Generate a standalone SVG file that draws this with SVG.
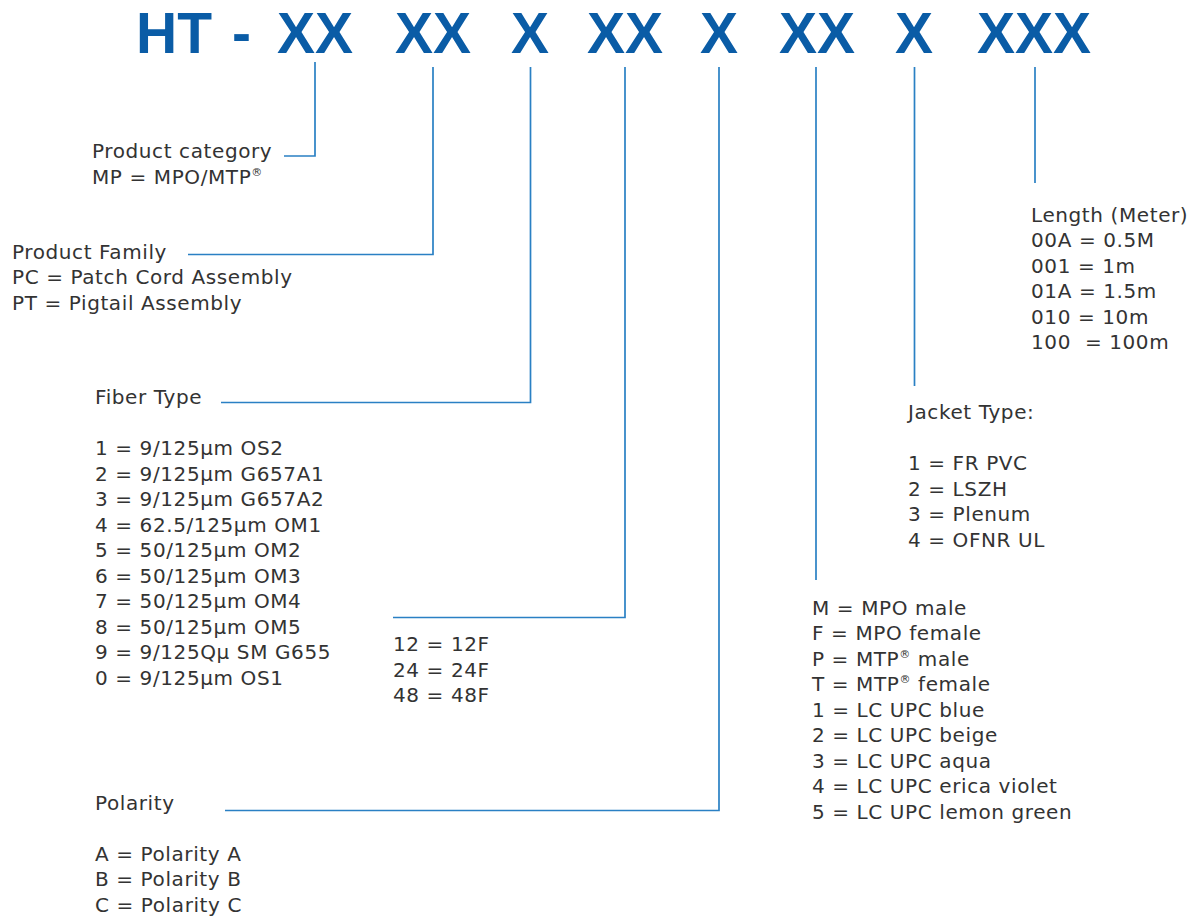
<svg xmlns="http://www.w3.org/2000/svg" width="1194" height="918" viewBox="0 0 1194 918">
<style>
.t{font-family:"DejaVu Sans","Liberation Sans",sans-serif;font-size:20px;fill:#333333;letter-spacing:0.6px}
.h{font-family:"Liberation Sans",Arial,sans-serif;font-weight:bold;font-size:57px;fill:#0a5ca6}
.c{fill:none;stroke:#2a80c4;stroke-width:1.7}
.r{font-size:11px}
</style>
<rect width="1194" height="918" fill="#ffffff"/>
<g id="title">
<text class="h" x="136" y="53">HT</text>
<text class="h" x="232" y="53">-</text>
<text class="h" x="315" y="53" text-anchor="middle">XX</text>
<text class="h" x="433" y="53" text-anchor="middle">XX</text>
<text class="h" x="530" y="53" text-anchor="middle">X</text>
<text class="h" x="625" y="53" text-anchor="middle">XX</text>
<text class="h" x="719" y="53" text-anchor="middle">X</text>
<text class="h" x="817" y="53" text-anchor="middle">XX</text>
<text class="h" x="914" y="53" text-anchor="middle">X</text>
<text class="h" x="1034" y="53" text-anchor="middle">XXX</text>
</g>
<g id="connectors">
<polyline class="c" points="315,62 315,156 284,156"/>
<polyline class="c" points="433,67 433,254.5 188,254.5"/>
<polyline class="c" points="530.5,67 530.5,402.5 221,402.5"/>
<polyline class="c" points="625,67 625,617.5 393,617.5"/>
<polyline class="c" points="719,67 719,810.5 225,810.5"/>
<line class="c" x1="816" y1="67" x2="816" y2="580"/>
<line class="c" x1="914.5" y1="67" x2="914.5" y2="386"/>
<line class="c" x1="1035" y1="67" x2="1035" y2="183"/>
</g>
<g id="product-category">
<text class="t" x="92" y="158">Product category</text>
<text class="t" x="92" y="183.5">MP = MPO/MTP<tspan class="r" dy="-8">®</tspan></text>
</g>
<g id="product-family">
<text class="t" x="12" y="258.5">Product Family</text>
<text class="t" x="12" y="284">PC = Patch Cord Assembly</text>
<text class="t" x="12" y="309.5">PT = Pigtail Assembly</text>
</g>
<g id="fiber-type">
<text class="t" x="95" y="404">Fiber Type</text>
<text class="t" x="95" y="455">1 = 9/125µm OS2</text>
<text class="t" x="95" y="480.5">2 = 9/125µm G657A1</text>
<text class="t" x="95" y="506">3 = 9/125µm G657A2</text>
<text class="t" x="95" y="531.5">4 = 62.5/125µm OM1</text>
<text class="t" x="95" y="557">5 = 50/125µm OM2</text>
<text class="t" x="95" y="582.5">6 = 50/125µm OM3</text>
<text class="t" x="95" y="608">7 = 50/125µm OM4</text>
<text class="t" x="95" y="633.5">8 = 50/125µm OM5</text>
<text class="t" x="95" y="659">9 = 9/125Qµ SM G655</text>
<text class="t" x="95" y="684.5">0 = 9/125µm OS1</text>
</g>
<g id="fiber-count">
<text class="t" x="393" y="651">12 = 12F</text>
<text class="t" x="393" y="676.5">24 = 24F</text>
<text class="t" x="393" y="702">48 = 48F</text>
</g>
<g id="polarity">
<text class="t" x="95" y="810">Polarity</text>
<text class="t" x="95" y="860.5">A = Polarity A</text>
<text class="t" x="95" y="886">B = Polarity B</text>
<text class="t" x="95" y="911.5">C = Polarity C</text>
</g>
<g id="connector-type">
<text class="t" x="812" y="614.5">M = MPO male</text>
<text class="t" x="812" y="640">F = MPO female</text>
<text class="t" x="812" y="665.5">P = MTP<tspan class="r" dy="-8">®</tspan><tspan dy="8"> male</tspan></text>
<text class="t" x="812" y="691">T = MTP<tspan class="r" dy="-8">®</tspan><tspan dy="8"> female</tspan></text>
<text class="t" x="812" y="716.5">1 = LC UPC blue</text>
<text class="t" x="812" y="742">2 = LC UPC beige</text>
<text class="t" x="812" y="767.5">3 = LC UPC aqua</text>
<text class="t" x="812" y="793">4 = LC UPC erica violet</text>
<text class="t" x="812" y="818.5">5 = LC UPC lemon green</text>
</g>
<g id="jacket-type">
<text class="t" x="908" y="419">Jacket Type:</text>
<text class="t" x="908" y="470">1 = FR PVC</text>
<text class="t" x="908" y="495.5">2 = LSZH</text>
<text class="t" x="908" y="521">3 = Plenum</text>
<text class="t" x="908" y="546.5">4 = OFNR UL</text>
</g>
<g id="length">
<text class="t" x="1031" y="221.5">Length (Meter)</text>
<text class="t" x="1031" y="247">00A = 0.5M</text>
<text class="t" x="1031" y="272.5">001 = 1m</text>
<text class="t" x="1031" y="298">01A = 1.5m</text>
<text class="t" x="1031" y="323.5">010 = 10m</text>
<text class="t" x="1031" y="349" style="white-space:pre">100  = 100m</text>
</g>
</svg>
